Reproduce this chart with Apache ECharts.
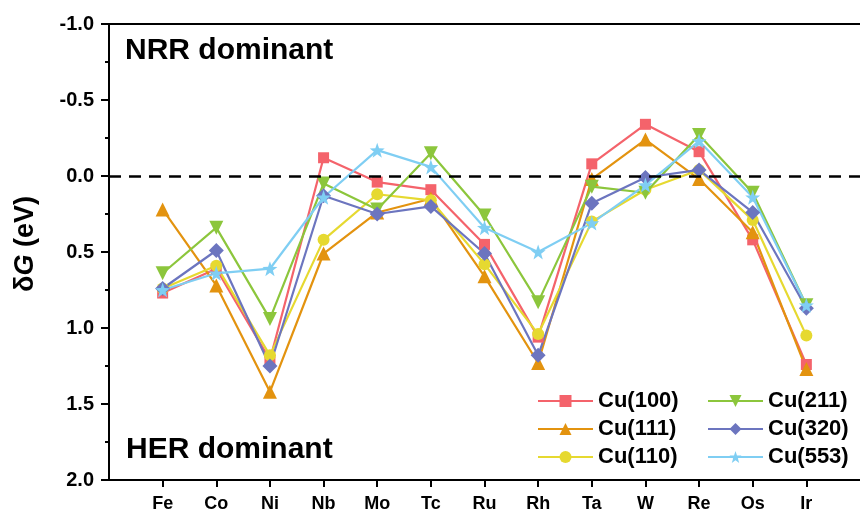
<!DOCTYPE html>
<html>
<head>
<meta charset="utf-8">
<script src="https://cdn.jsdelivr.net/npm/echarts@6/dist/echarts.min.js"></script>
<style>
  html, body { margin: 0; padding: 0; background: #ffffff; }
  #chart { width: 860px; height: 513px; }
</style>
</head>
<body>
<div id="chart"></div>
<script>
// Dopant metals along the x axis
const metals = ['Fe', 'Co', 'Ni', 'Nb', 'Mo', 'Tc', 'Ru', 'Rh', 'Ta', 'W', 'Re', 'Os', 'Ir'];

// δG (eV) for each Cu facet
const cu100 = [0.77, 0.61, 1.21, -0.12, 0.04, 0.09, 0.45, 1.06, -0.08, -0.34, -0.16, 0.42, 1.24];
const cu111 = [0.22, 0.72, 1.42, 0.51, 0.24, 0.15, 0.66, 1.23, 0.02, -0.24, 0.02, 0.37, 1.27];
const cu110 = [0.74, 0.59, 1.18, 0.42, 0.12, 0.16, 0.58, 1.04, 0.30, 0.09, -0.04, 0.29, 1.05];
const cu211 = [0.64, 0.34, 0.94, 0.05, 0.22, -0.15, 0.26, 0.83, 0.07, 0.11, -0.27, 0.11, 0.85];
const cu320 = [0.74, 0.49, 1.25, 0.13, 0.25, 0.20, 0.51, 1.18, 0.18, 0.01, -0.04, 0.24, 0.87];
const cu553 = [0.75, 0.64, 0.61, 0.14, -0.17, -0.06, 0.34, 0.50, 0.31, 0.06, -0.23, 0.14, 0.85];

const yTicks = [-1.0, -0.5, 0.0, 0.5, 1.0, 1.5, 2.0];

const FONT = 'Arial, "Liberation Sans", sans-serif';
const STAR = 'path://M0,-100 L23.5,-32.4 L95.1,-30.9 L38,12.4 L58.8,80.9 L0,40 L-58.8,80.9 L-38,12.4 L-95.1,-30.9 L-23.5,-32.4 Z';

const facets = [
  { name: 'Cu(100)', data: cu100, color: '#F4636B', symbol: 'rect', size: 11, rotate: 0 },
  { name: 'Cu(111)', data: cu111, color: '#E3930F', symbol: 'triangle', size: 14, rotate: 0 },
  { name: 'Cu(110)', data: cu110, color: '#E6D930', symbol: 'circle', size: 12, rotate: 0 },
  { name: 'Cu(211)', data: cu211, color: '#8CC63C', symbol: 'triangle', size: 14, rotate: 180 },
  { name: 'Cu(320)', data: cu320, color: '#6C75BF', symbol: 'diamond', size: 15, rotate: 0 },
  { name: 'Cu(553)', data: cu553, color: '#7FCEF3', symbol: STAR, size: 15, rotate: 0 }
];

const positions = metals.map((m, i) => i + 1);

const series = facets.map(f => ({
  name: f.name,
  type: 'line',
  data: f.data.map((v, i) => [positions[i], v]),
  symbol: f.symbol,
  symbolSize: f.size,
  symbolRotate: f.rotate,
  lineStyle: { color: f.color, width: 2.2 },
  itemStyle: { color: f.color },
  emphasis: { disabled: true },
  animation: false
}));

// zero reference line
series[0].markLine = {
  silent: true,
  symbol: 'none',
  label: { show: false },
  lineStyle: { color: '#000', width: 2.5, type: [12, 8] },
  data: [{ yAxis: 0 }],
  animation: false
};

const legendCommon = {
  orient: 'vertical',
  itemWidth: 55,
  itemHeight: 15,
  itemGap: 6,
  textStyle: { fontFamily: FONT, fontWeight: 'bold', fontSize: 22, color: '#000' },
  selectedMode: false
};

const chart = echarts.init(document.getElementById('chart'), null, { renderer: 'canvas' });
chart.setOption({
  backgroundColor: '#ffffff',
  animation: false,
  grid: { left: 109, top: 24, bottom: 33, right: -6, containLabel: false },
  xAxis: [{
    type: 'value',
    min: 0,
    max: metals.length + 1,
    interval: 1,
    axisLine: { show: true, onZero: false, lineStyle: { color: '#000', width: 2 } },
    axisTick: { show: true, length: 7, inside: false, customValues: positions, lineStyle: { color: '#000', width: 2 } },
    axisLabel: {
      customValues: positions,
      formatter: v => metals[v - 1] || '',
      fontFamily: FONT, fontWeight: 'bold', fontSize: 18, color: '#000', margin: 15
    },
    splitLine: { show: false }
  }, {
    type: 'value',
    position: 'top',
    min: 0,
    max: metals.length + 1,
    axisLine: { show: true, onZero: false, lineStyle: { color: '#000', width: 2 } },
    axisTick: { show: false },
    axisLabel: { show: false },
    splitLine: { show: false }
  }],
  yAxis: {
    type: 'value',
    inverse: true,
    min: yTicks[0],
    max: yTicks[yTicks.length - 1],
    interval: 0.5,
    axisLine: { show: true, onZero: false, lineStyle: { color: '#000', width: 2 } },
    axisTick: { show: true, length: 8, lineStyle: { color: '#000', width: 2 } },
    minorTick: { show: true, splitNumber: 2, length: 4, lineStyle: { color: '#000', width: 2 } },
    axisLabel: {
      formatter: v => v.toFixed(1),
      fontFamily: FONT, fontWeight: 'bold', fontSize: 20, color: '#000', margin: 15
    },
    splitLine: { show: false }
  },
  legend: [
    Object.assign({}, legendCommon, { left: 532, top: 385, data: ['Cu(100)', 'Cu(111)', 'Cu(110)'] }),
    Object.assign({}, legendCommon, { left: 702, top: 385, data: ['Cu(211)', 'Cu(320)', 'Cu(553)'] })
  ],
  graphic: [
    { type: 'text', left: 125, top: 36, style: { text: 'NRR dominant', font: 'bold 30px ' + FONT, fill: '#000' } },
    { type: 'text', left: 126, top: 435, style: { text: 'HER dominant', font: 'bold 30px ' + FONT, fill: '#000' } },
    // y axis title, rotated
    {
      type: 'text', x: 26, y: 244, rotation: Math.PI / 2,
      style: {
        text: '{a|δ}{g|G}{a| (eV)}',
        align: 'center', verticalAlign: 'middle',
        rich: {
          a: { fontFamily: FONT, fontWeight: 'bold', fontSize: 27, fill: '#000' },
          g: { fontFamily: FONT, fontWeight: 'bold', fontStyle: 'italic', fontSize: 27, fill: '#000' }
        }
      }
    }
  ],
  series: series
});
</script>
</body>
</html>
